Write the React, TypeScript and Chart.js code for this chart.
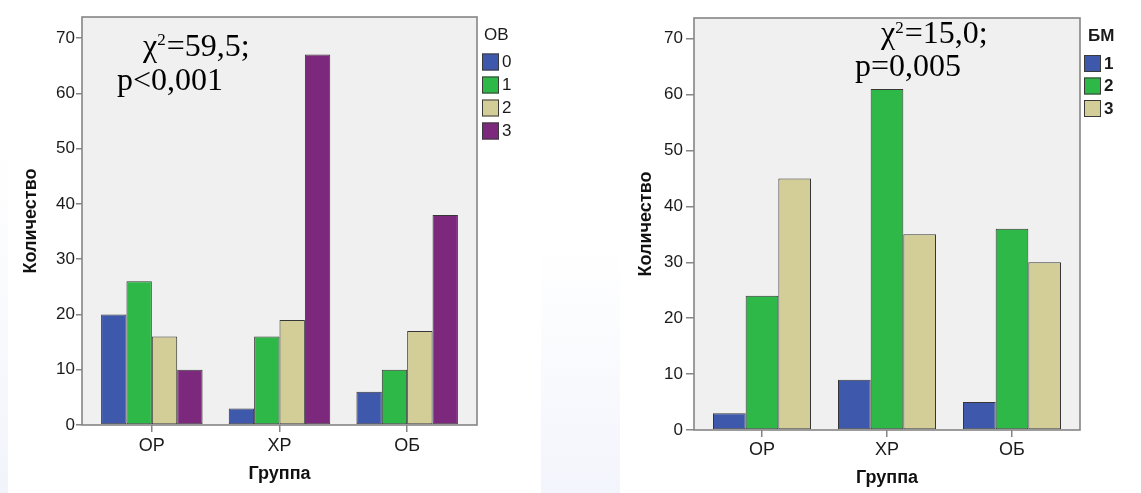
import React, { useEffect, useRef } from "react";
import { Chart, registerables } from "chart.js";

Chart.register(...registerables);

// ---------- data ----------
const groups = ["ОР", "ХР", "ОБ"];
const yTitle = "Количество";
const xTitle = "Группа";
const yTickStep = 10;

const ovTitle = "ОВ";
const ovLevels = ["0", "1", "2", "3"];
const ovLevel0 = [20, 3, 6];
const ovLevel1 = [26, 16, 10];
const ovLevel2 = [16, 19, 17];
const ovLevel3 = [10, 67, 38];
const ovChi = ["χ", "2", "=59,5;"];
const ovP = "p<0,001";

const bmTitle = "БМ";
const bmLevels = ["1", "2", "3"];
const bmLevel1 = [3, 9, 5];
const bmLevel2 = [24, 61, 36];
const bmLevel3 = [45, 35, 30];
const bmChi = ["χ", "2", "=15,0;"];
const bmP = "p=0,005";

const palette = ["#3E58AC", "#2EB848", "#D3CE97", "#7C287D"];

// ---------- layout / style ----------
type Layout = {
  width: number;
  height: number;
  yMax: number;
  xPad: number;
  groupPct: number;
  yAxisW: number;
  yTitlePad: number;
  yTickLen: number;
  yTickPad: number;
  xAxisH: number;
  xTickLen: number;
  xTickPad: number;
  xTitlePad: number;
  padTop: number;
  padRight: number;
  legend: { titleDx: number; titleY: number; boxDx: number; boxY: number; step: number; bold: boolean };
  chi: { x: number; y: number; supDy: number };
  p: { x: number; y: number };
};

const leftLayout: Layout = {
  width: 533,
  height: 493,
  yMax: 73.8,
  xPad: 0.047,
  groupPct: 0.795,
  yAxisW: 74,
  yTitlePad: 12.2,
  yTickLen: 6,
  yTickPad: 1,
  xAxisH: 68,
  xTickLen: 7,
  xTickPad: 3.2,
  xTitlePad: 8.4,
  padTop: 17,
  padRight: 64,
  legend: { titleDx: 7, titleY: 35, boxDx: 5, boxY: 53.5, step: 23, bold: false },
  chi: { x: 135, y: 56, supDy: 11 },
  p: { x: 109, y: 90 },
};

const rightLayout: Layout = {
  width: 521,
  height: 493,
  yMax: 73.7,
  xPad: 0.044,
  groupPct: 0.784,
  yAxisW: 74,
  yTitlePad: 14.8,
  yTickLen: 8,
  yTickPad: 3,
  xAxisH: 63,
  xTickLen: 7,
  xTickPad: 2.2,
  xTitlePad: 4.4,
  padTop: 18,
  padRight: 61,
  legend: { titleDx: 8, titleY: 36.5, boxDx: 4, boxY: 55, step: 22.5, bold: true },
  chi: { x: 261, y: 43, supDy: 10 },
  p: { x: 235, y: 76 },
};

const SANS = '"Liberation Sans", Arial, sans-serif';
const SERIF = '"Liberation Serif", "Times New Roman", serif';
const AXIS_GRAY = "#858585";
const TEXT = "#1a1a1a";

function makeConfig(
  series: number[][],
  levels: string[],
  legendTitle: string,
  chi: string[],
  pText: string,
  L: Layout
): any {
  const datasets = series.map((vals, i) => ({
    label: levels[i],
    data: vals.map((v, j) => ({ x: j, y: v })),
    backgroundColor: palette[i],
    borderColor: "#363636",
    borderWidth: 1,
    borderSkipped: false,
    barPercentage: 1,
    categoryPercentage: L.groupPct,
  }));

  const boxPlugin = {
    id: "plotBox",
    beforeDraw(chart: any) {
      const { ctx, chartArea: a, width, height } = chart;
      ctx.save();
      ctx.fillStyle = "#ffffff";
      ctx.fillRect(0, 0, width, height);
      ctx.fillStyle = "#F0F0F0";
      ctx.fillRect(a.left, a.top, a.right - a.left, a.bottom - a.top);
      ctx.restore();
    },
    afterDatasetsDraw(chart: any) {
      const { ctx, chartArea: a } = chart;
      ctx.save();
      ctx.strokeStyle = AXIS_GRAY;
      ctx.lineWidth = 1.6;
      ctx.strokeRect(a.left, a.top, a.right - a.left, a.bottom - a.top);
      ctx.restore();
    },
  };

  const annotPlugin = {
    id: "annot",
    afterDraw(chart: any) {
      const { ctx, chartArea: a } = chart;
      ctx.save();
      // legend
      const lg = L.legend;
      ctx.textBaseline = "middle";
      ctx.textAlign = "left";
      ctx.fillStyle = TEXT;
      ctx.font = `${lg.bold ? "bold " : ""}17px ${SANS}`;
      ctx.fillText(legendTitle, a.right + lg.titleDx, lg.titleY);
      chart.data.datasets.forEach((ds: any, i: number) => {
        const x = a.right + lg.boxDx;
        const y = lg.boxY + i * lg.step;
        ctx.fillStyle = ds.backgroundColor;
        ctx.fillRect(x, y, 17, 17);
        ctx.strokeStyle = "#3a3a3a";
        ctx.lineWidth = 1;
        ctx.strokeRect(x + 0.5, y + 0.5, 16, 16);
        ctx.fillStyle = TEXT;
        ctx.fillText(ds.label, x + 20, y + 9);
      });
      // statistics
      ctx.textBaseline = "alphabetic";
      ctx.fillStyle = "#000";
      ctx.font = `32px ${SERIF}`;
      ctx.fillText(chi[0], L.chi.x, L.chi.y);
      const w0 = ctx.measureText(chi[0]).width;
      ctx.font = `17px ${SERIF}`;
      ctx.fillText(chi[1], L.chi.x + w0, L.chi.y - L.chi.supDy);
      const w1 = ctx.measureText(chi[1]).width;
      ctx.font = `32px ${SERIF}`;
      ctx.fillText(chi[2], L.chi.x + w0 + w1 + 1, L.chi.y);
      ctx.fillText(pText, L.p.x, L.p.y);
      ctx.restore();
    },
  };

  return {
    type: "bar",
    data: { datasets },
    plugins: [boxPlugin, annotPlugin],
    options: {
      responsive: false,
      animation: false,
      devicePixelRatio: 1,
      events: [],
      layout: { padding: { left: 0, top: L.padTop, right: L.padRight, bottom: 0 } },
      plugins: { legend: { display: false }, tooltip: { enabled: false } },
      scales: {
        x: {
          type: "linear",
          offset: false,
          min: -0.5 - L.xPad,
          max: groups.length - 0.5 + L.xPad,
          afterBuildTicks(scale: any) {
            scale.ticks = groups.map((_, i) => ({ value: i }));
          },
          afterFit(scale: any) {
            scale.height = L.xAxisH;
          },
          ticks: {
            callback: (v: number) => groups[Math.round(v)] ?? "",
            font: { family: SANS, size: 18 },
            color: TEXT,
            padding: L.xTickPad,
            maxRotation: 0,
            autoSkip: false,
          },
          grid: {
            offset: false,
            drawOnChartArea: false,
            drawTicks: true,
            tickLength: L.xTickLen,
            color: AXIS_GRAY,
            lineWidth: 1.5,
          },
          border: { display: false },
          title: {
            display: true,
            text: xTitle,
            font: { family: SANS, size: 18, weight: "bold" },
            color: "#111",
            padding: { top: 0, bottom: L.xTitlePad },
          },
        },
        y: {
          type: "linear",
          min: 0,
          max: L.yMax,
          afterFit(scale: any) {
            scale.width = L.yAxisW;
          },
          ticks: {
            stepSize: yTickStep,
            includeBounds: false,
            font: { family: SANS, size: 17 },
            color: TEXT,
            padding: L.yTickPad,
          },
          grid: {
            drawOnChartArea: false,
            drawTicks: true,
            tickLength: L.yTickLen,
            color: AXIS_GRAY,
            lineWidth: 1.5,
          },
          border: { display: false },
          title: {
            display: true,
            text: yTitle,
            font: { family: SANS, size: 18, weight: "bold" },
            color: "#111",
            padding: { top: L.yTitlePad, bottom: 0 },
          },
        },
      },
    },
  };
}

function BarPanel(props: {
  left: number;
  layout: Layout;
  series: number[][];
  levels: string[];
  legendTitle: string;
  chi: string[];
  pText: string;
}) {
  const ref = useRef<HTMLCanvasElement>(null);
  useEffect(() => {
    const chart = new Chart(
      ref.current as HTMLCanvasElement,
      makeConfig(props.series, props.levels, props.legendTitle, props.chi, props.pText, props.layout)
    );
    return () => chart.destroy();
  }, []);
  const L = props.layout;
  return (
    <canvas
      ref={ref}
      width={L.width}
      height={L.height}
      style={{ position: "absolute", left: props.left, top: 0, width: L.width, height: L.height }}
    />
  );
}

export default function App() {
  return (
    <div
      style={{
        position: "absolute",
        left: 0,
        top: 0,
        width: 1141,
        height: 493,
        background: "#ffffff",
        overflow: "hidden",
      }}
    >
      <div
        style={{
          position: "absolute",
          left: 0,
          top: 0,
          width: 8,
          height: 493,
          background: "linear-gradient(to bottom, #ffffff 30%, #f1f4fb 100%)",
        }}
      />
      <div
        style={{
          position: "absolute",
          left: 541,
          top: 0,
          width: 79,
          height: 493,
          background: "linear-gradient(to bottom, #ffffff 50%, #f3f5fc 100%)",
        }}
      />
      <BarPanel
        left={8}
        layout={leftLayout}
        series={[ovLevel0, ovLevel1, ovLevel2, ovLevel3]}
        levels={ovLevels}
        legendTitle={ovTitle}
        chi={ovChi}
        pText={ovP}
      />
      <BarPanel
        left={620}
        layout={rightLayout}
        series={[bmLevel1, bmLevel2, bmLevel3]}
        levels={bmLevels}
        legendTitle={bmTitle}
        chi={bmChi}
        pText={bmP}
      />
    </div>
  );
}
